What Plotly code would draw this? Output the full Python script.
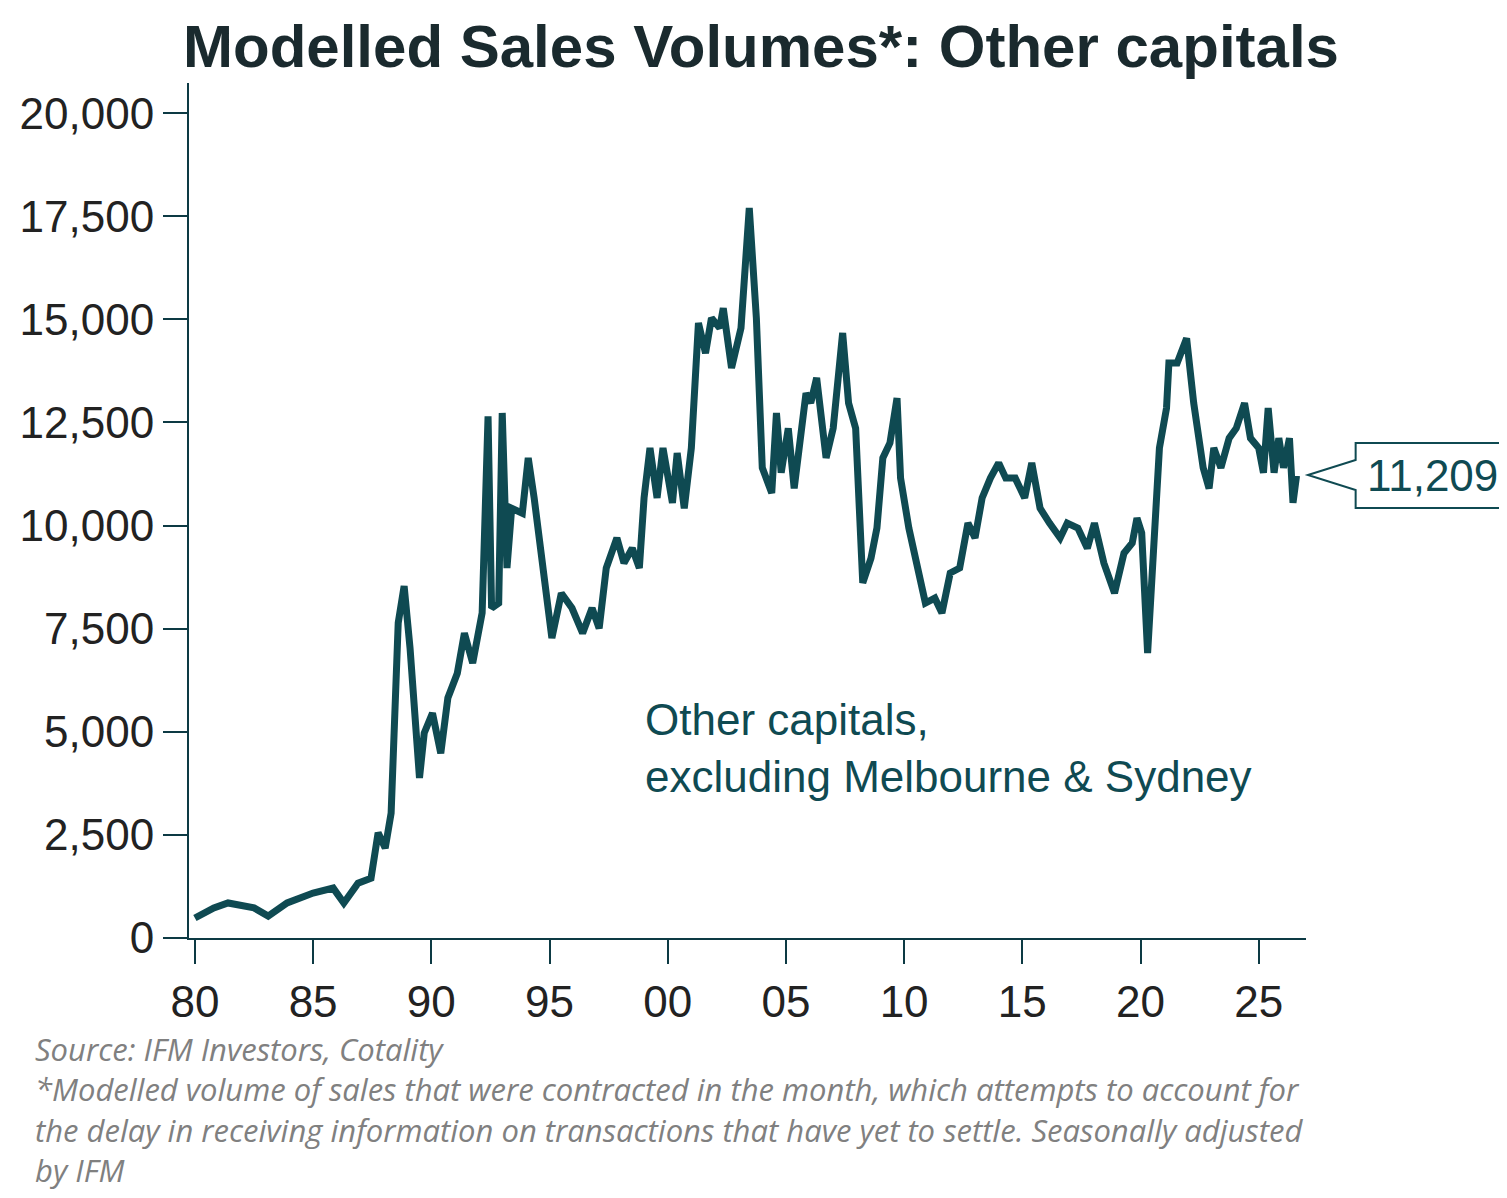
import plotly.graph_objects as go

years = [1980.0,1980.8,1981.4,1982.5,1983.1,1983.9,1985.0,1985.85,1986.3,1986.9,1987.45,1987.75,1988.05,1988.3,1988.6,1988.85,1989.1,1989.3,1989.5,1989.7,1990.05,1990.4,1990.7,1991.1,1991.4,1991.75,1992.15,1992.4,1992.55,1992.85,1993.0,1993.2,1993.4,1993.85,1994.1,1994.35,1994.7,1995.1,1995.5,1995.95,1996.4,1996.8,1997.1,1997.4,1997.85,1998.15,1998.5,1998.8,1999.0,1999.25,1999.55,1999.8,2000.2,2000.4,2000.7,2001.0,2001.3,2001.6,2001.85,2002.2,2002.35,2002.7,2003.1,2003.45,2003.75,2004.0,2004.4,2004.6,2004.8,2005.1,2005.35,2005.85,2006.05,2006.3,2006.7,2007.0,2007.4,2007.65,2007.95,2008.25,2008.6,2008.85,2009.1,2009.4,2009.7,2009.85,2010.2,2010.5,2010.9,2011.3,2011.6,2011.95,2012.35,2012.7,2013.0,2013.3,2013.65,2014.0,2014.3,2014.7,2015.1,2015.4,2015.75,2016.15,2016.6,2016.9,2017.35,2017.75,2018.05,2018.45,2018.9,2019.3,2019.65,2019.85,2020.05,2020.3,2020.5,2020.8,2021.1,2021.2,2021.55,2021.7,2021.95,2022.25,2022.65,2022.9,2023.1,2023.4,2023.75,2024.05,2024.4,2024.65,2025.0,2025.2,2025.4,2025.65,2025.85,2026.05,2026.3,2026.45,2026.6]
sales = [485,730,850,730,530,850,1090,1210,850,1330,1450,2550,2180,3030,7640,8530,7030,5575,3880,4970,5450,4480,5820,6420,7390,6665,7880,12650,8000,8120,12730,8970,10420,10300,11640,10670,8970,7270,8360,8000,7390,8000,7510,8970,9700,9090,9450,8970,10670,11880,10670,11880,10550,11760,10420,11880,14910,14180,15030,14790,15270,13820,14790,17700,15030,11400,10790,12730,11280,12360,10900,13210,12970,13580,11640,12360,14670,12970,12360,8610,9210,9940,11640,12000,13090,11150,9940,9210,8120,8240,7880,8850,8970,10060,9700,10670,11150,11520,11150,11150,10670,11520,10420,10060,9700,10060,9940,9450,10060,9090,8360,9330,9580,10180,9820,6910,8970,11880,12850,13940,13940,14180,14540,12970,11400,10900,11880,11400,12120,12360,12970,12120,11880,11280,12850,11280,12120,11400,12120,10550,11209]
tick_years = [1980,1985,1990,1995,2000,2005,2010,2015,2020,2025]
tick_labels = ["80","85","90","95","00","05","10","15","20","25"]
y_ticks = [0,2500,5000,7500,10000,12500,15000,17500,20000]
last_label = "11,209"

teal = "#0f4a52"
fig = go.Figure(go.Scatter(x=years, y=sales, mode="lines", line=dict(color=teal, width=7), hoverinfo="skip"))

L, R, T, B = 173, 1298, 75, 930
def px(x): return (x - L) / (R - L)
def py(y): return (B - y) / (B - T)

fig.update_layout(
    width=1507, height=1198, plot_bgcolor="white", paper_bgcolor="white",
    margin=dict(l=L, r=1507-R, t=T, b=1198-B, pad=0), showlegend=False,
    font=dict(family="Liberation Sans, Arial", color="#222"),
    title=dict(text="<b>Modelled Sales Volumes*: Other capitals</b>", x=753/1507, xanchor="center",
               y=1-38/1198, yanchor="middle", font=dict(size=60, color="#1a2a2e")),
    xaxis=dict(range=[1979.75, 2027.0], tickvals=tick_years, ticktext=tick_labels, showgrid=False,
               showline=True, linecolor="#0d3a44", linewidth=2, ticks="outside", ticklen=24,
               tickcolor="#0d3a44", tickwidth=2, tickfont=dict(size=44, color="#222"), zeroline=False),
    yaxis=dict(range=[0, 20730], tickvals=y_ticks, tickformat=",", showgrid=False,
               showline=True, linecolor="#0d3a44", linewidth=2, ticks="outside", ticklen=24,
               tickcolor="#0d3a44", tickwidth=2, tickfont=dict(size=44, color="#222"), zeroline=False),
)

path = "M {} {} L {} {} L {} {} L {} {} L {} {} L {} {} L {} {} Z".format(
    px(1300), py(467), px(1348), py(452), px(1348), py(435), px(1502), py(435),
    px(1502), py(500), px(1348), py(500), px(1348), py(482))
fig.add_shape(type="path", path=path, xref="paper", yref="paper", line=dict(color=teal, width=2), fillcolor="white")
fig.add_annotation(x=px(1425), y=py(467), xref="paper", yref="paper", text=last_label, showarrow=False,
                   font=dict(size=44, color=teal), xanchor="center", yanchor="middle")

fig.add_annotation(x=px(630), y=py(740), xref="paper", yref="paper", xanchor="left", yanchor="middle",
                   align="left", showarrow=False, text="Other capitals,<br>excluding Melbourne & Sydney",
                   font=dict(size=44, color=teal))

fig.add_annotation(x=px(16), y=py(1018), xref="paper", yref="paper", xanchor="left", yanchor="top",
                   align="left", showarrow=False,
                   text="<i>Source: IFM Investors, Cotality<br>*Modelled volume of sales that were contracted in the month, which attempts to account for<br>the delay in receiving information on transactions that have yet to settle. Seasonally adjusted<br>by IFM</i>",
                   font=dict(size=31, color="#808080", family="Open Sans, Liberation Sans"))

fig.write_html("out.html")
